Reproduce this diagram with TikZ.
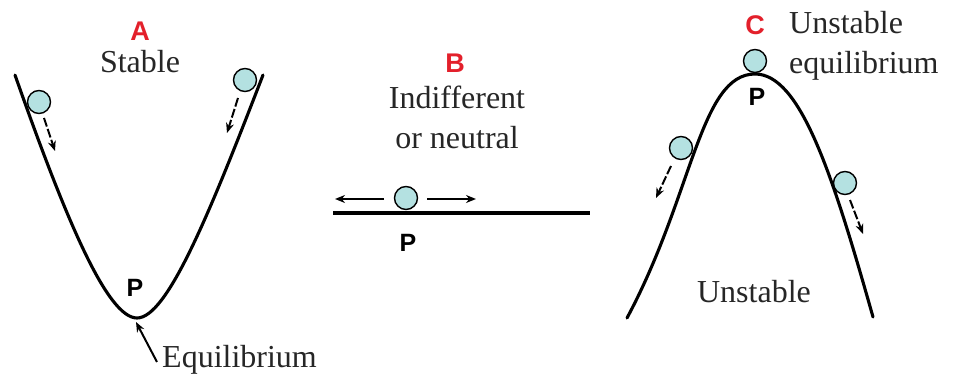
\documentclass[tikz,border=0pt]{standalone}
\usepackage{fontspec}
\setmainfont{Liberation Serif}
\newfontfamily\labfont{Liberation Sans}
\usetikzlibrary{arrows.meta}
\definecolor{ballfill}{HTML}{B4E1E1}
\definecolor{labred}{HTML}{E3202B}
\definecolor{txt}{HTML}{262626}
\tikzset{
  ball/.style={circle,draw=black,line width=1.4pt,fill=ballfill,minimum size=23pt,inner sep=0pt},
  curveline/.style={line width=3.1pt,line cap=round},
  movearrow/.style={line width=2pt,dash pattern=on 9pt off 2.5pt,-{Stealth[length=10pt,width=8pt]}},
  plainarrow/.style={line width=2pt,-{Stealth[length=10pt,width=8pt]}},
  letter/.style={font=\labfont\bfseries\fontsize{27}{30}\selectfont,text=labred,inner sep=0pt},
  plabel/.style={font=\labfont\bfseries\fontsize{25}{28}\selectfont,text=black,inner sep=0pt},
  caption/.style={font=\fontsize{32}{40}\selectfont,text=txt,inner sep=0pt,align=center}
}
\begin{document}
\begin{tikzpicture}[x=1pt,y=-1pt]
\useasboundingbox (0,0) rectangle (954,387);
% ---------- A ----------
\node[letter] (A) at (140,31) {A};
\node[caption] (stable) at (140,62) {Stable};
\draw[curveline] (15,75) .. controls (65,217) and (107,318) .. (137,318)
  .. controls (167,318) and (209,215) .. (263,75);
\node[ball] (a1) at (39,102) {};
\node[ball] (a2) at (245,80) {};
\coordinate (a1s) at (44,118); \coordinate (a1e) at (55,151);
\coordinate (a2s) at (238,98); \coordinate (a2e) at (227,133);
\draw[movearrow] (a1s) -- (a1e);
\draw[movearrow] (a2s) -- (a2e);
\node[plabel] (pa) at (135,288) {P};
\coordinate (eqtip) at (136,322);
\node[caption,anchor=west] (equil) at (162,360) {Equilibrium};
\coordinate (eqs) at (157,362);
\draw[plainarrow] (eqs) -- (eqtip);
% ---------- B ----------
\node[letter] (B) at (455,63) {B};
\node[caption] (indiff) at (457,117) {Indifferent\\or neutral};
\coordinate (bl) at (333,213); \coordinate (br) at (590,213);
\draw[curveline,line cap=butt] (bl) -- (br);
\node[ball] (b1) at (406,198) {};
\coordinate (bls) at (384,199); \coordinate (ble) at (335,199);
\coordinate (brs) at (427,199); \coordinate (bre) at (476,199);
\draw[plainarrow] (bls) -- (ble);
\draw[plainarrow] (brs) -- (bre);
\node[plabel] (pb) at (408,243) {P};
% ---------- C ----------
\node[letter] (C) at (755,25) {C};
\node[caption,align=left,anchor=west] (unsteq) at (789,46) {Unstable\\equilibrium};
\draw[curveline] (627,318) .. controls (693,195) and (700,74) .. (755,74)
  .. controls (800,74) and (832,172) .. (873,317);
\node[ball] (c0) at (755,61) {};
\node[ball] (c1) at (681,148) {};
\node[ball] (c2) at (845,183) {};
\coordinate (c1s) at (671,166); \coordinate (c1e) at (656,198);
\coordinate (c2s) at (850,200); \coordinate (c2e) at (863,234);
\draw[movearrow] (c1s) -- (c1e);
\draw[movearrow] (c2s) -- (c2e);
\node[plabel] (pc) at (757,97) {P};
\node[caption] (unst) at (754,292) {Unstable};
\end{tikzpicture}
\end{document}
